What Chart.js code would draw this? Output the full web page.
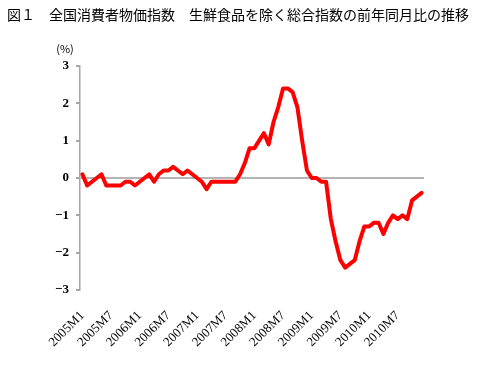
<!DOCTYPE html>
<html>
<head>
<meta charset="utf-8">
<script src="https://cdn.jsdelivr.net/npm/chart.js@4/dist/chart.umd.min.js"></script>
<style>
  html, body { margin: 0; padding: 0; background: #fff; }
  #wrap { width: 484px; height: 365px; position: relative; }
</style>
</head>
<body>
<div id="wrap"><canvas id="c" width="484" height="365"></canvas></div>
<script>
const titleText = "図１　全国消費者物価指数　生鮮食品を除く総合指数の前年同月比の推移";
const unitLabel = "(%)";
const years = [2005, 2006, 2007, 2008, 2009, 2010];
const monthsInYear = [1,2,3,4,5,6,7,8,9,10,11,12];
const categories = [];
years.forEach(y => monthsInYear.forEach(m => categories.push(y + "M" + m)));
const shownTickLabels = ["2005M1","2005M7","2006M1","2006M7","2007M1","2007M7","2008M1","2008M7","2009M1","2009M7","2010M1","2010M7"];
const yTicks = [-3, -2, -1, 0, 1, 2, 3];

const cpi2005 = [0.1, -0.2, -0.1, 0.0, 0.1, -0.2, -0.2, -0.2, -0.2, -0.1, -0.1, -0.2];
const cpi2006 = [-0.1, 0.0, 0.1, -0.1, 0.1, 0.2, 0.2, 0.3, 0.2, 0.1, 0.2, 0.1];
const cpi2007 = [0.0, -0.1, -0.3, -0.1, -0.1, -0.1, -0.1, -0.1, -0.1, 0.1, 0.4, 0.8];
const cpi2008 = [0.8, 1.0, 1.2, 0.9, 1.5, 1.9, 2.4, 2.4, 2.3, 1.9, 1.0, 0.2];
const cpi2009 = [0.0, 0.0, -0.1, -0.1, -1.1, -1.7, -2.2, -2.4, -2.3, -2.2, -1.7, -1.3];
const cpi2010 = [-1.3, -1.2, -1.2, -1.5, -1.2, -1.0, -1.1, -1.0, -1.1, -0.6, -0.5, -0.4];
const values = [].concat(cpi2005, cpi2006, cpi2007, cpi2008, cpi2009, cpi2010);

const textPlugin = {
  id: 'extraText',
  afterDraw(chart) {
    const ctx = chart.ctx;
    ctx.save();
    ctx.fillStyle = '#000';
    ctx.textBaseline = 'middle';
    ctx.textAlign = 'left';
    ctx.font = '14px "Noto Sans CJK JP"';
    ctx.fillText(titleText, 7, 15);
    ctx.font = '11px "Noto Sans CJK JP"';
    ctx.textAlign = 'center';
    ctx.fillText(unitLabel, 65, 49);
    ctx.restore();
  }
};

new Chart(document.getElementById('c'), {
  type: 'line',
  data: {
    labels: categories,
    datasets: [{
      data: values,
      borderColor: '#ff0000',
      borderWidth: 4,
      pointRadius: 0,
      tension: 0,
      borderJoinStyle: 'round',
      borderCapStyle: 'round',
      fill: false
    }]
  },
  options: {
    responsive: false,
    animation: false,
    devicePixelRatio: 1,
    layout: { padding: { left: 7, right: 60, top: 66, bottom: 0 } },
    plugins: {
      legend: { display: false },
      tooltip: { enabled: false },
      title: { display: false }
    },
    scales: {
      x: {
        type: 'category',
        offset: true,
        grid: { display: false, drawTicks: false },
        border: { display: false },
        ticks: {
          autoSkip: false,
          minRotation: 45,
          maxRotation: 45,
          padding: 18,
          color: '#000',
          font: { family: '"Liberation Serif"', size: 13 },
          callback: function(v, i) {
            const lab = categories[i];
            return shownTickLabels.includes(lab) ? lab : '';
          }
        },
        afterFit: function(s) { s.height = 75; }
      },
      y: {
        min: -3,
        max: 3,
        afterBuildTicks: function(s) { s.ticks = yTicks.map(v => ({ value: v })); },
        grid: {
          color: function(ctx) { return ctx.tick && ctx.tick.value === 0 ? '#b4b4b4' : 'rgba(0,0,0,0)'; },
          tickColor: '#a6a6a6',
          tickLength: 4,
          lineWidth: 2
        },
        border: { display: true, color: '#a6a6a6', width: 1.5 },
        ticks: {
          padding: 7,
          color: '#000',
          font: { family: '"Liberation Serif"', size: 13, weight: 'bold' },
          callback: function(v) { return v < 0 ? '\u2212' + Math.abs(v) : String(v); }
        },
        afterFit: function(s) { s.width = 73; }
      }
    }
  },
  plugins: [textPlugin]
});
</script>
</body>
</html>
